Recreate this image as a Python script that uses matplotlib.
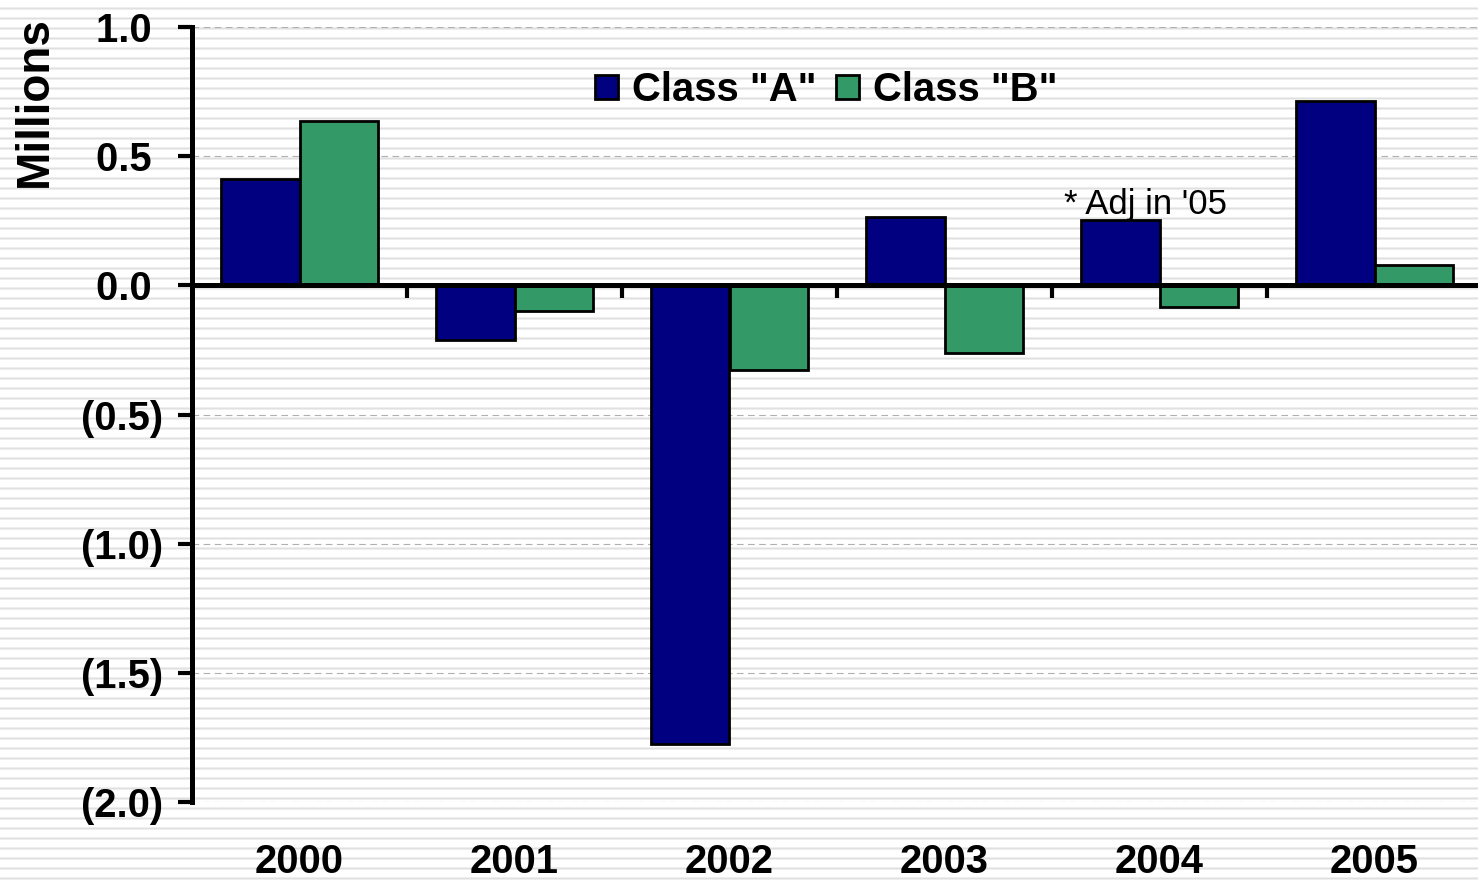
import numpy as np
import matplotlib
matplotlib.use("Agg")
import matplotlib.pyplot as plt
from matplotlib.transforms import blended_transform_factory

# ---- data ----
years = ["2000", "2001", "2002", "2003", "2004", "2005"]
class_a = [0.41, -0.213, -1.775, 0.264, 0.252, 0.713]
class_b = [0.636, -0.10, -0.326, -0.26, -0.085, 0.078]
series_names = ['Class "A"', 'Class "B"']
y_ticks = [1.0, 0.5, 0.0, -0.5, -1.0, -1.5, -2.0]
y_tick_labels = ["1.0 ", "0.5 ", "0.0 ", "(0.5)", "(1.0)", "(1.5)", "(2.0)"]
note_text = "* Adj in '05"

plt.rcParams['font.family'] = ['Liberation Sans', 'DejaVu Sans']

W, H = 1478, 882
fig = plt.figure(figsize=(W / 100, H / 100), dpi=100)
fig.patch.set_facecolor("white")

# striped background (decoration)
bg = fig.add_axes([0, 0, 1, 1], zorder=-10)
period = 10
row = np.ones(period)
row[7] = 0.93
row[8] = 0.875
row[9] = 0.93
pattern = np.tile(row, H // period + 2)[:H].reshape(-1, 1)
bg.imshow(np.repeat(pattern, 4, axis=1), cmap="gray", vmin=0, vmax=1,
          aspect="auto", interpolation="nearest", extent=[0, 1, 0, 1])
bg.set_axis_off()

left = 192 / W
bottom = 1 - 802 / H
top = 1 - 27 / H
width = 6 * 215 / W
ax = fig.add_axes([left, bottom, width, top - bottom])
ax.patch.set_visible(False)

x = np.arange(len(years))
w = 0.363
ax.bar(x - w / 2, class_a, w, color="#000080", edgecolor="black",
       linewidth=2.0, label=series_names[0], zorder=2)
ax.bar(x + w / 2, class_b, w, color="#339966", edgecolor="black",
       linewidth=2.0, label=series_names[1], zorder=2)

ax.set_xlim(-0.5, len(years) - 0.5)
ax.set_ylim(-2.0, 1.0)

# spines
for s in ["top", "right"]:
    ax.spines[s].set_visible(False)
ax.spines["left"].set_linewidth(3.6)
ax.spines["bottom"].set_position(("data", 0))
ax.spines["bottom"].set_linewidth(3.6)
ax.spines["bottom"].set_zorder(3)

# y ticks
ax.set_yticks(y_ticks)
ax.set_yticklabels(y_tick_labels, fontsize=28.8, fontweight="bold")
ax.tick_params(axis="y", direction="out", length=10, width=3, pad=11)

# x ticks at category boundaries
ax.set_xticks(x[:-1] + 0.5)
ax.set_xticklabels([])
ax.tick_params(axis="x", direction="out", length=9, width=3)

trans = blended_transform_factory(ax.transData, ax.transAxes)
for xi, yl in zip(x, years):
    ax.text(xi, -0.0774, yl, transform=trans, ha="center", va="center",
            fontsize=28.8, fontweight="bold")

# grid
ax.yaxis.grid(True, linestyle=(0, (6, 4)), color="#b0b0b0", linewidth=0.8)
ax.set_axisbelow(True)

ax.set_ylabel("Millions", fontsize=33, fontweight="bold")
ax.yaxis.set_label_coords((57 - 192) / 1290, (802 - 102) / 775)

# annotation
ax.text(4 - 0.444, 0.275, note_text, fontsize=25, ha="left", va="baseline")

leg = ax.legend(loc="center", bbox_to_anchor=(0.4915, 0.9187), ncol=2,
                frameon=False, prop={"size": 28.8, "weight": "bold"},
                handlelength=0.575, handleheight=0.575, handletextpad=0.35,
                columnspacing=0.475, borderpad=0, borderaxespad=0)

fig.savefig("out.png", dpi=100)
